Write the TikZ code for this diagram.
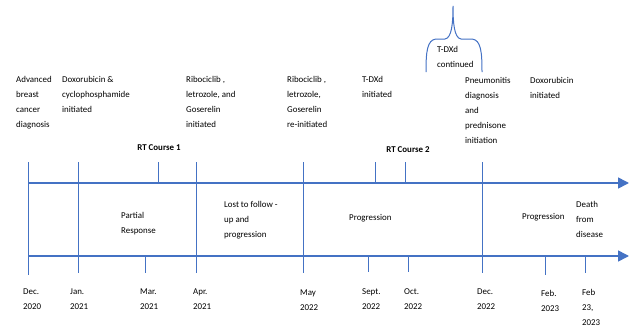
\documentclass[tikz,border=0pt]{standalone}
\usepackage{fontspec}
\setmainfont{Carlito}
\usetikzlibrary{arrows.meta}
\definecolor{tl}{HTML}{4472C4}
\begin{document}
\begin{tikzpicture}[x=1pt,y=-1pt,
  axis/.style={draw=tl,line width=1.6pt,-{Triangle[length=11pt,width=11pt]}},
  tick/.style={draw=tl,line width=1pt},
  brc/.style={draw=tl,line width=1pt},
  txt/.style={anchor=north west,inner sep=0pt,align=left,yshift=-4pt,font=\fontsize{8.9}{15}\selectfont},
  bold/.style={txt,anchor=north,font=\fontsize{8.9}{15}\selectfont\bfseries}]
\useasboundingbox (0,0) rectangle (637,327);
% axes
\coordinate (t0) at (28,183); \coordinate (t1) at (629,183);
\coordinate (b0) at (28,256); \coordinate (b1) at (629,256);
% long verticals
\foreach \n/\x/\yb in {dec20/28/275, jan21/78/273, apr21/196/273, may22/303/273, dec22/482/273}{
  \coordinate (\n t) at (\x,162); \coordinate (\n b) at (\x,\yb);
  \draw[tick] (\n t) -- (\n b);
}
% short ticks above top axis
\foreach \n/\x in {rt1/158, sepu/375, octu/405}{
  \coordinate (\n t) at (\x,162); \coordinate (\n b) at (\x,183);
  \draw[tick] (\n t) -- (\n b);
}
% short ticks below bottom axis
\foreach \n/\x/\yb in {mar21/145/273, sepd/368/272, octd/408/272, feb23/545/275, feb23d/585/273}{
  \coordinate (\n t) at (\x,256); \coordinate (\n b) at (\x,\yb);
  \draw[tick] (\n t) -- (\n b);
}
\draw[axis] (t0) -- (t1);
\draw[axis] (b0) -- (b1);
% brace
\coordinate (brL) at (426,72); \coordinate (brT) at (453,6); \coordinate (brR) at (482,72);
\draw[brc] (brL) .. controls (426,52) and (427,40) .. (436,39) -- (445,39)
  .. controls (452,38) and (453,22) .. (brT)
  .. controls (453,22) and (454,38) .. (461,39) -- (472,39)
  .. controls (481,40) and (482,52) .. (brR);
% top texts
\node[txt] (n1) at (16,72) {Advanced\\breast\\cancer\\diagnosis};
\node[txt] (n2) at (62,72) {Doxorubicin \&\\cyclophosphamide\\initiated};
\node[txt] (n3) at (186,72) {Ribociclib ,\\letrozole, and\\Goserelin\\initiated};
\node[txt] (n4) at (287,72) {Ribociclib ,\\letrozole,\\Goserelin\\re-initiated};
\node[txt] (n5) at (362,72) {T-DXd\\initiated};
\node[txt] (n6) at (437,42) {T-DXd\\continued};
\node[txt] (n7) at (465,73) {Pneumonitis\\diagnosis\\and\\prednisone\\initiation};
\node[txt] (n8) at (530,73) {Doxorubicin\\initiated};
\node[bold] (rt1) at (159,140) {RT Course 1};
\node[bold] (rt2) at (408,142) {RT Course 2};
% middle texts
\node[txt] (m1) at (121,208) {Partial\\Response};
\node[txt] (m2) at (224,197) {Lost to follow -\\up and\\progression};
\node[txt] (m3) at (349,210) {Progression};
\node[txt] (m4) at (522,209) {Progression};
\node[txt] (m5) at (576,197) {Death\\from\\disease};
% dates
\node[txt] (d1) at (23,285) {Dec.\\2020};
\node[txt] (d2) at (70,285) {Jan.\\2021};
\node[txt] (d3) at (140,285) {Mar.\\2021};
\node[txt] (d4) at (193,285) {Apr.\\2021};
\node[txt] (d5) at (300,286) {May\\2022};
\node[txt] (d6) at (362,285) {Sept.\\2022};
\node[txt] (d7) at (404,285) {Oct.\\2022};
\node[txt] (d8) at (477,285) {Dec.\\2022};
\node[txt] (d9) at (541,286) {Feb.\\2023};
\node[txt] (d10) at (582,285) {Feb\\23,\\2023};
\end{tikzpicture}
\end{document}
